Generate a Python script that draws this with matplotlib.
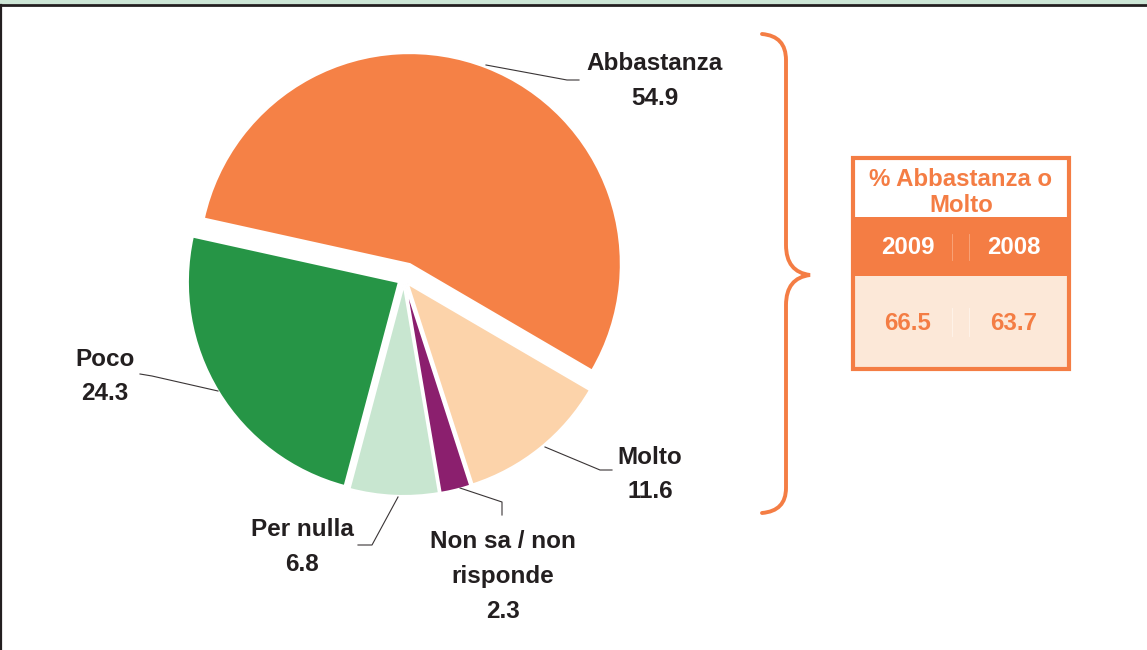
import numpy as np
import matplotlib.pyplot as plt
from matplotlib.patches import Rectangle, PathPatch
from matplotlib.path import Path

plt.rcParams['font.family'] = ['Liberation Sans', 'DejaVu Sans']

# dati
labels = ['Abbastanza', 'Poco', 'Per nulla', 'Non sa / non\nrisponde', 'Molto']
values = [54.9, 24.3, 6.8, 2.3, 11.6]
colors = ['#F58146', '#269546', '#C8E6D0', '#8B1F6E', '#FCD3AA']

box_years = ['2009', '2008']
box_values = [66.5, 63.7]

ORANGE = '#F47D44'
DARK = '#231F20'

fig = plt.figure(figsize=(11.47, 6.5), dpi=100)
ax = fig.add_axes([0, 0, 1, 1])

# torta (asse y invertito -> senso orario in coordinate dati)
# explode in unita' dati (pixel)
ax.pie(values, colors=colors, explode=[16, 6, 6, 6, 6], startangle=30.3,
       counterclock=False, center=(404, 279), radius=211, frame=True,
       wedgeprops=dict(edgecolor='white', linewidth=1.5))
ax.set_xlim(0, 1147)
ax.set_ylim(650, 0)
ax.set_aspect('equal')
ax.axis('off')

# etichette
lab_pos = [(655, 64), (105, 359), (302, 530), (503, 542), (650, 457)]
for lab, v, (x, y) in zip(labels, values, lab_pos):
    lines = lab.split('\n') + ['%.1f' % v]
    for i, t in enumerate(lines):
        ax.text(x, y + 34.5 * i, t, ha='center', va='center', fontsize=17.5,
                fontweight='bold', color=DARK)

# linee guida
leaders = [
    [(486, 65), (567, 80), (579, 80)],
    [(140, 374), (152, 376), (218, 391)],
    [(398, 497), (372, 545), (358, 545)],
    [(460, 488), (502, 502), (502, 515)],
    [(545, 447), (600, 470), (612, 470)],
]
for pts in leaders:
    xs, ys = zip(*pts)
    ax.plot(xs, ys, color='#3A3536', lw=0.8)

# parentesi graffa
verts = [(762, 34), (786, 36), (786, 60), (786, 60),
         (786, 245), (786, 245),
         (786, 272), (810, 275),
         (786, 278), (786, 305),
         (786, 488), (786, 488),
         (786, 511), (762, 513)]
codes = [Path.MOVETO, Path.CURVE3, Path.CURVE3, Path.LINETO,
         Path.LINETO, Path.LINETO,
         Path.CURVE3, Path.CURVE3,
         Path.CURVE3, Path.CURVE3,
         Path.LINETO, Path.LINETO,
         Path.CURVE3, Path.CURVE3]
ax.add_patch(PathPatch(Path(verts, codes), fill=False, edgecolor=ORANGE, lw=2.8,
                       capstyle='round'))

# riquadro
bx, by, bw, bh = 853, 158, 216, 211
ax.add_patch(Rectangle((bx, 217), bw, 59, facecolor=ORANGE, edgecolor='none'))
ax.add_patch(Rectangle((bx, 276), bw, bh - (276 - by), facecolor='#FCE8D8', edgecolor='none'))
ax.add_patch(Rectangle((bx, by), bw, bh, facecolor='none', edgecolor=ORANGE, lw=3))
ax.text(961, 179, '% Abbastanza o', ha='center', va='center', fontsize=17.3,
        fontweight='bold', color=ORANGE)
ax.text(961, 206, 'Molto', ha='center', va='center', fontsize=17.3,
        fontweight='bold', color=ORANGE)
col_x = [908, 1014]
for cx, yr, v in zip(col_x, box_years, box_values):
    ax.text(cx, 248, yr, ha='center', va='center', fontsize=17.3, fontweight='bold',
            color='white')
    ax.text(cx, 323, '%.1f' % v, ha='center', va='center', fontsize=17.3,
            fontweight='bold', color=ORANGE)
for lx in (952, 969):
    ax.plot([lx, lx], [234, 260], color='#F9A97F', lw=0.6)
    ax.plot([lx, lx], [308, 336], color='#FFF4EC', lw=0.6)

# cornice
ax.add_patch(Rectangle((0, 0), 1147, 4, facecolor='#CDE6D6', edgecolor='none'))
ax.plot([0, 1147], [5, 5], color=DARK, lw=2)
ax.plot([0.8, 0.8], [5, 650], color=DARK, lw=1.6)

fig.savefig('out.png', dpi=100)
